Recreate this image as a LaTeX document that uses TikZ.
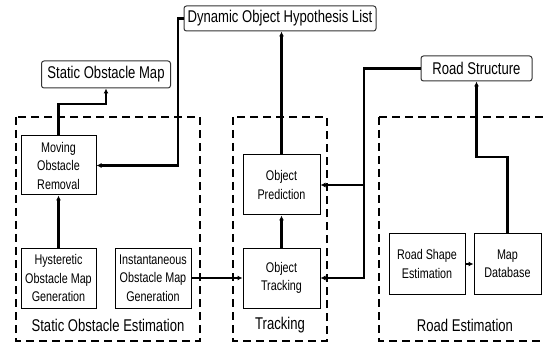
\documentclass[tikz,border=0pt]{standalone}
\usepackage{fontspec}
\setmainfont{Liberation Sans}[FakeStretch=0.77]
\usetikzlibrary{arrows.meta}
\begin{document}
\begin{tikzpicture}[x=1pt,y=-1pt,
  blk/.style={draw=black,line width=1pt,fill=white,inner sep=0pt,align=center,
    font=\fontsize{14}{18.5}\selectfont,minimum height=60pt},
  outbox/.style={draw=black!80,line width=1pt,fill=white,rounded corners=2.5pt,inner sep=0pt,
    font=\fontsize{17}{20}\selectfont,minimum height=25pt},
  grp/.style={draw=black,line width=2.9pt,dash pattern=on 8pt off 5pt},
  lbl/.style={font=\fontsize{17}{20}\selectfont,inner sep=0pt},
  conn/.style={line width=2.4pt,-{Latex[length=5pt,width=5pt]}}]
\useasboundingbox (0,0) rectangle (544,342);
% group frames
\draw[grp] (16,117) rectangle (200,341);
\draw[grp] (233,117) rectangle (327,341);
\draw[grp] (379,117) -- (379,341) -- (560,341);
\draw[grp] (379,117) -- (560,117);
% output boxes
\node[outbox,minimum width=192pt] (dohl) at (280,18.5) {Dynamic Object Hypothesis List};
\node[outbox,minimum width=129pt,minimum height=27pt] (som) at (106,74.5) {Static Obstacle Map};
\node[outbox,minimum width=111pt] (rs) at (476.5,68.5) {Road Structure};
% blocks
\node[blk,minimum width=75pt,minimum height=59pt] (mor) at (58.5,165.5) {Moving\\Obstacle\\Removal};
\node[blk,minimum width=75pt] (hys) at (58.5,278) {Hysteretic\\Obstacle Map\\Generation};
\node[blk,minimum width=76pt] (ins) at (153,278) {Instantaneous\\Obstacle Map\\Generation};
\node[blk,minimum width=77pt] (op) at (281.5,185) {Object\\Prediction};
\node[blk,minimum width=77pt] (ot) at (281.5,278) {Object\\Tracking};
\node[blk,minimum width=76pt] (rse) at (427,264) {Road Shape\\Estimation};
\node[blk,minimum width=67pt] (md) at (507.5,264) {Map\\Database};
% labels
\node[lbl] (l1) at (108,325) {Static Obstacle Estimation};
\node[lbl] (l2) at (280,325) {Tracking};
\node[lbl] (l3) at (465,325) {Road Estimation};
% helper coordinates
\coordinate (k1) at (106,104);
\coordinate (k2) at (178,165.5);
\coordinate (k3) at (364,278);
\coordinate (k4) at (476.5,157);
\coordinate (k5) at (507.5,157);
% connectors
\draw[conn] (mor.north) |- (k1) -- (som.south);
\draw[conn] (dohl.west) -| (k2) -- (mor.east);
\draw[conn] (op.north) -- (op.north |- dohl.south);
\draw[conn] (rs.west) -| (k3) -- (ot.east);
\draw[conn] (k3 |- op.east) -- (op.east);
\draw[conn] (md.north) -- (k5) -- (k4) -- (rs.south);
\draw[conn] (rse.east) -- (md.west);
\draw[conn] (hys.north) -- (mor.south);
\draw[conn] (ot.north) -- (op.south);
\draw[conn] (ins.east) -- (ot.west);
\end{tikzpicture}
\end{document}
